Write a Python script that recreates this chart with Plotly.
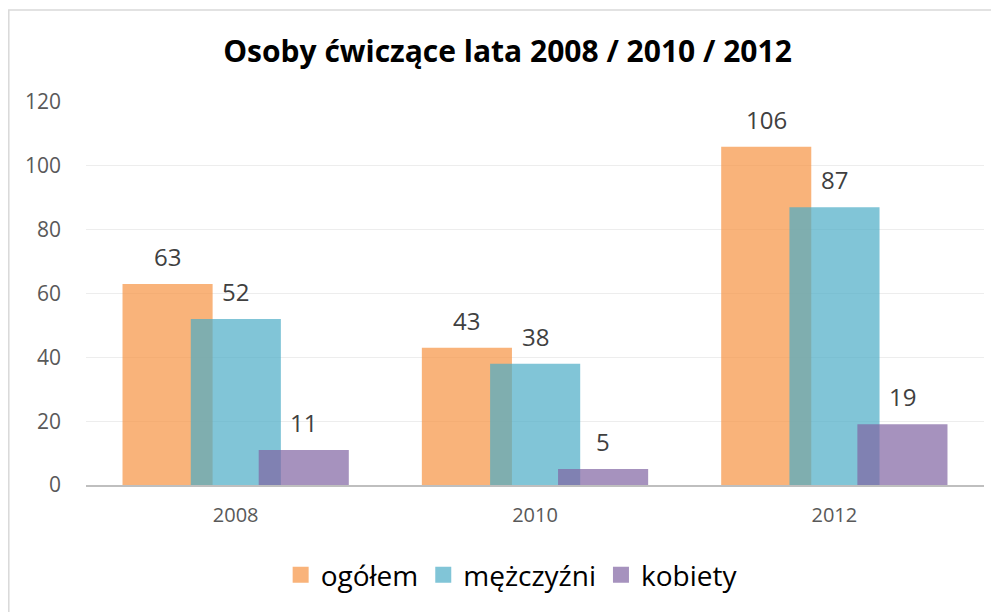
import plotly.graph_objects as go

years = ["2008", "2010", "2012"]
series_names = ["ogółem", "mężczyźni", "kobiety"]
ogolem = [63, 43, 106]
mezczyzni = [52, 38, 87]
kobiety = [11, 5, 19]
y_ticks = [0, 20, 40, 60, 80, 100, 120]

values = [ogolem, mezczyzni, kobiety]
colors = ["rgba(247,150,70,0.72)", "rgba(75,172,198,0.70)", "rgba(128,100,162,0.70)"]
offsets = [-0.378, -0.15, 0.077]
bw = 0.301

L, T, PW, PH = 78, 94, 898, 383
W, H = 999, 612

x = list(range(len(years)))
fig = go.Figure()
annotations = []
for name, vals, col, off in zip(series_names, values, colors, offsets):
    fig.add_trace(go.Bar(
        x=x, y=vals, name=name, width=bw, offset=off, showlegend=False,
        marker=dict(color=col, line=dict(width=0)),
    ))
    for xi, v in zip(x, vals):
        annotations.append(dict(
            x=xi + off + bw / 2, y=v, text=str(v), showarrow=False,
            yanchor="bottom", yshift=9, xref="x", yref="y",
            font=dict(family="Open Sans", size=24, color="#404040"),
        ))
# legend entries with larger square swatches
for name, col in zip(series_names, colors):
    fig.add_trace(go.Scatter(
        x=[None], y=[None], mode="markers", name=name,
        marker=dict(symbol="square", size=17, color=col, line=dict(width=0)),
    ))

fig.update_layout(
    width=W, height=H,
    barmode="overlay",
    paper_bgcolor="white", plot_bgcolor="white",
    margin=dict(l=L, r=W - L - PW, t=T, b=H - T - PH),
    title=dict(text="<b>Osoby ćwiczące lata 2008 / 2010 / 2012</b>",
               x=0.5, xanchor="center", y=1 - 43 / H, yanchor="middle",
               font=dict(family="Open Sans", size=30, color="#000000")),
    xaxis=dict(range=[-0.5, 2.5], tickvals=x, ticktext=years, showgrid=False,
               showline=True, linecolor="#BFBFBF", linewidth=2, ticks="",
               ticklabelstandoff=11,
               tickfont=dict(family="Open Sans", size=20, color="#595959"),
               zeroline=False),
    yaxis=dict(range=[0, 120], tickvals=y_ticks, showgrid=True, gridcolor="#EDEDED",
               gridwidth=1, zeroline=False, showline=False, ticks="",
               ticklabelstandoff=24,
               tickfont=dict(family="Open Sans", size=21, color="#595959")),
    legend=dict(orientation="h", x=0.474, xanchor="center", y=(T + PH - 567) / PH,
                yanchor="middle", itemsizing="trace",
                font=dict(family="Open Sans", size=28, color="#000000"),
                itemwidth=30, traceorder="normal"),
    annotations=annotations,
    shapes=[dict(type="rect", xref="paper", yref="paper",
                 x0=(0.8 - L) / PW, x1=(1040 - L) / PW,
                 y0=(T + PH - 650) / PH, y1=(T + PH - 2) / PH,
                 line=dict(color="#D9D9D9", width=1.5), fillcolor="rgba(0,0,0,0)",
                 layer="below")],
)

fig.write_html("out.html")
